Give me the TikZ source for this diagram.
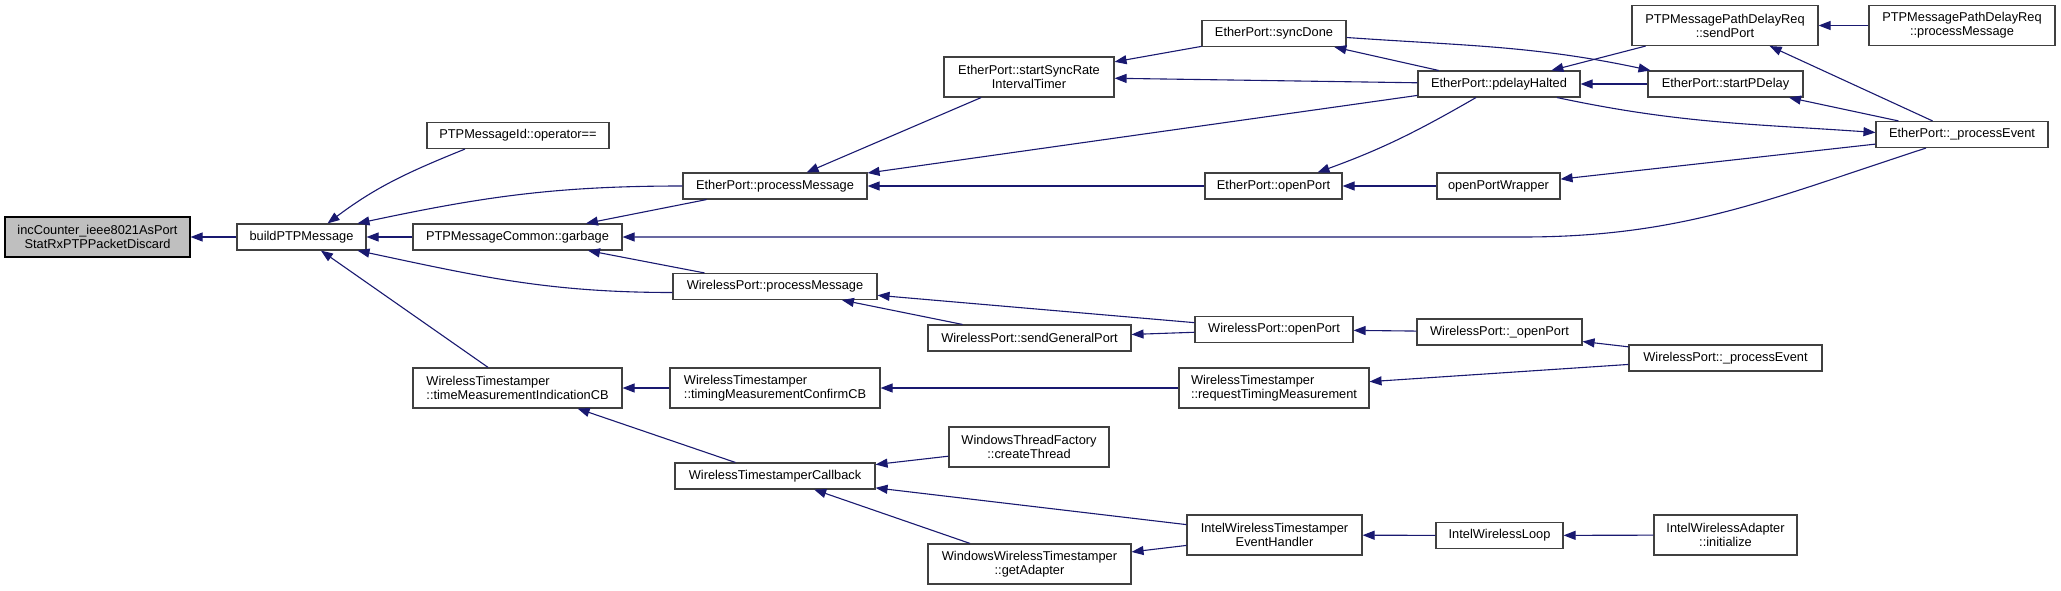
\documentclass[tikz,border=0pt]{standalone}
\usepackage{fontspec}
\setmainfont{Liberation Sans}
\usetikzlibrary{arrows.meta,calc}
\definecolor{edgeblue}{HTML}{191970}
\definecolor{boxgray}{HTML}{404040}
\definecolor{fillgray}{HTML}{BFBFBF}

\begin{document}
\begin{tikzpicture}[
  x=1pt,y=1pt,
  font=\fontsize{12.8}{14}\selectfont,
  fn/.style={draw=boxgray,line width=1.1pt,fill=white,inner sep=0pt,minimum height=26pt,align=center},
  fn2/.style={fn,minimum height=40pt},
  call/.style={-{Triangle[length=12pt,width=9pt]},line width=1.1pt,draw=edgeblue}
]
\useasboundingbox (0,0) rectangle (2061,-591);

% functions, one column per call depth
\node[fn2,fill=fillgray,draw=black,minimum width=185pt] (inc) at (97.5,-237) {incCounter\_ieee8021AsPort\\StatRxPTPPacketDiscard};
\node[fn,minimum width=129pt] (build) at (301.5,-237) {buildPTPMessage};
\node[fn,minimum width=182pt] (opeq) at (518,-135.5) {PTPMessageId::operator==};
\node[fn,minimum width=209pt] (garbage) at (517.5,-237) {PTPMessageCommon::garbage};
\node[fn2,align=left,minimum width=209pt] (tmind) at (517.5,-388) {WirelessTimestamper\\::timeMeasurementIndicationCB};
\node[fn,minimum width=184pt] (epmsg) at (775,-186) {EtherPort::processMessage};
\node[fn,minimum width=204pt] (wpmsg) at (775,-286.5) {WirelessPort::processMessage};
\node[fn2,align=left,minimum width=210pt] (tmconf) at (775,-388) {WirelessTimestamper\\::timingMeasurementConfirmCB};
\node[fn,minimum width=200pt] (wtcb) at (775,-476) {WirelessTimestamperCallback};
\node[fn2,minimum width=170pt] (ssrit) at (1029,-77) {EtherPort::startSyncRate\\IntervalTimer};
\node[fn,minimum width=203pt] (sgp) at (1029.5,-338) {WirelessPort::sendGeneralPort};
\node[fn2,minimum width=160pt] (cthr) at (1029,-447) {WindowsThreadFactory\\::createThread};
\node[fn2,minimum width=203pt] (getad) at (1029.5,-564) {WindowsWirelessTimestamper\\::getAdapter};
\node[fn,minimum width=144pt] (sync) at (1274,-33.5) {EtherPort::syncDone};
\node[fn,minimum width=137pt] (epopen) at (1273.5,-186) {EtherPort::openPort};
\node[fn,minimum width=158pt] (wpopen) at (1274,-329.5) {WirelessPort::openPort};
\node[fn2,align=left,minimum width=190pt] (rtm) at (1274,-388) {WirelessTimestamper\\::requestTimingMeasurement};
\node[fn2,minimum width=175pt] (iwteh) at (1274.5,-535) {IntelWirelessTimestamper\\EventHandler};
\node[fn,minimum width=162pt] (pdh) at (1499,-84) {EtherPort::pdelayHalted};
\node[fn,minimum width=123pt] (opw) at (1498.5,-186) {openPortWrapper};
\node[fn,minimum width=165pt] (wpop2) at (1499.5,-332) {WirelessPort::\_openPort};
\node[fn,minimum width=127pt] (iwl) at (1499.5,-535.5) {IntelWirelessLoop};
\node[fn2,minimum width=186pt] (sendp) at (1725,-25.5) {PTPMessagePathDelayReq\\::sendPort};
\node[fn,minimum width=155pt] (spd) at (1725.5,-84) {EtherPort::startPDelay};
\node[fn,minimum width=193pt] (wppe) at (1725.5,-358) {WirelessPort::\_processEvent};
\node[fn2,minimum width=143pt] (init) at (1725.5,-535) {IntelWirelessAdapter\\::initialize};
\node[fn2,minimum width=186pt] (pdrpm) at (1962,-25.5) {PTPMessagePathDelayReq\\::processMessage};
\node[fn,minimum width=172pt] (eppe) at (1962,-134.5) {EtherPort::\_processEvent};

% callers point at callees
\draw[call] (build) -- (inc);
\draw[call] ([xshift=-53]opeq.south) to[out=202,in=37] ([xshift=26]build.north);
\draw[call] (epmsg.west) to[out=180,in=12] ([xshift=56]build.north);
\draw[call] (garbage) -- (build);
\draw[call] ([yshift=-6]wpmsg.west) to[out=180,in=-12] ([xshift=56]build.south);
\draw[call] (tmind) -- (build);
\draw[call] (epmsg) -- (garbage);
\draw[call] (wpmsg) -- (garbage);
\draw[call] ([xshift=-36]eppe.south) to[out=198,in=0] ($(garbage.east)+(900,0)$) -- (garbage.east);
\draw[call] (ssrit) -- (epmsg);
\draw[call] (pdh) -- (epmsg);
\draw[call] (epopen) -- (epmsg);
\draw[call] (sync) -- (ssrit);
\draw[call] (pdh) -- (ssrit);
\draw[call] (pdh) -- (sync);
\draw[call] ([yshift=-4]sync.east) to[out=-4,in=168] ([xshift=-75]spd.north);
\draw[call] ([xshift=-23]pdh.south) to[out=210,in=20] ([xshift=44]epopen.north);
\draw[call] (opw) -- (epopen);
\draw[call] (sendp) -- (pdh);
\draw[call] (spd) -- (pdh);
\draw[call] ([xshift=58]pdh.south) to[out=-12,in=176] ([yshift=2]eppe.west);
\draw[call] (pdrpm) -- (sendp);
\draw[call] (eppe) -- (sendp);
\draw[call] (eppe) -- (spd);
\draw[call] (eppe) -- (opw);
\draw[call] (wpopen) -- (wpmsg);
\draw[call] (sgp) -- (wpmsg);
\draw[call] (wpopen) -- (sgp);
\draw[call] (wpop2) -- (wpopen);
\draw[call] (wppe) -- (wpop2);
\draw[call] (wppe) -- (rtm);
\draw[call] (rtm) -- (tmconf);
\draw[call] (tmconf) -- (tmind);
\draw[call] (wtcb) -- (tmind);
\draw[call] (cthr) -- (wtcb);
\draw[call] (iwteh) -- (wtcb);
\draw[call] (getad) -- (wtcb);
\draw[call] (iwteh) -- (getad);
\draw[call] (iwl) -- (iwteh);
\draw[call] (init) -- (iwl);
\end{tikzpicture}
\end{document}
